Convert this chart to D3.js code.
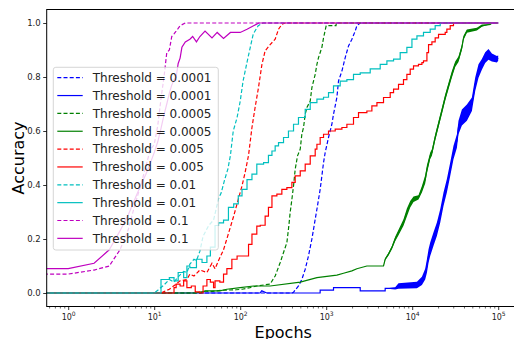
<!DOCTYPE html>
<html><head><meta charset="utf-8">
<script src="https://cdn.jsdelivr.net/npm/d3@7/dist/d3.min.js"></script>
<style>
body{margin:0;background:#fff}
text{font-family:"DejaVu Sans",sans-serif}
</style>
</head><body>
<svg id="chart" width="514" height="339"></svg>
<script>
// [epoch, accuracy, spread] - spread is the noise band
var b_dash = [[0,0],[400,0],[417,0.003],[476,0.026],[521,0.05],[570,0.088],[622,0.137],[682,0.2],[745,0.273],[792,0.323],[851,0.384],[891,0.434],[931,0.483],[973,0.52],[1064,0.576],[1164,0.625],[1216,0.662],[1331,0.724],[1390,0.785],[1523,0.822],[1664,0.872],[1818,0.915],[1990,0.94],[2173,0.97],[2274,0.99],[2485,1],[100000,1]];
var b_solid = [[0,0],[170,0],[178,0.008],[204,0],[850,0],[851,0.011],[1216,0.011],[1217,0.02],[2485,0.02],[2486,0.008],[4850,0.008],[4851,0.017],[6340,0.017,0.004],[6930,0.026,0.01],[11350,0.03,0.012],[12970,0.045,0.015],[14160,0.07,0.02],[14830,0.1,0.025],[15490,0.137,0.025],[16190,0.162,0.025],[17700,0.2,0.025],[19360,0.236,0.025],[21170,0.285,0.025],[23120,0.347,0.025],[25300,0.397,0.025],[27670,0.458,0.025],[30200,0.52,0.025],[33110,0.563,0.025],[34530,0.613,0.025],[37830,0.65,0.03],[43250,0.668,0.03],[49450,0.699,0.025],[51660,0.736,0.025],[54050,0.773,0.025],[59020,0.822,0.025],[64570,0.847,0.02],[70590,0.872,0.02],[77100,0.884,0.02],[84500,0.872,0.015],[96600,0.866,0.012],[100000,0.87,0.01]];
var g_dash = [[0,0],[35,0],[38,0.008],[45,0.005],[60,0.01],[90,0.012],[105,0.014],[130,0.02],[156,0.026],[190,0.03],[223,0.033],[255,0.063],[292,0.113],[319,0.15],[349,0.187],[364,0.236],[381,0.298],[399,0.347],[417,0.397],[436,0.458],[464,0.508],[499,0.533],[521,0.588],[545,0.613],[570,0.662],[597,0.687],[652,0.711],[682,0.761],[745,0.81],[780,0.847],[814,0.872],[891,0.91],[931,0.945],[1000,0.99],[1300,0.99],[1310,1],[100000,1]];
var g_solid = [[0,0],[30,0],[41,0.008],[58,0.008],[70,0.014],[100,0.02],[143,0.026],[223,0.026],[499,0.04],[780,0.057],[1331,0.066],[1590,0.073],[1990,0.082],[2274,0.09],[2972,0.1],[4640,0.1],[4850,0.125,0.004],[5300,0.144,0.005],[5800,0.168,0.006],[6340,0.2,0.008],[6930,0.224,0.01],[7920,0.261,0.012],[8670,0.298,0.015],[9480,0.329,0.012],[10360,0.347,0.01],[11830,0.354,0.008],[12970,0.384,0.012],[14160,0.421,0.015],[14830,0.458,0.015],[16190,0.508,0.012],[16950,0.52,0.012],[18500,0.576,0.012],[20230,0.625,0.012],[22130,0.674,0.012],[24200,0.724,0.012],[26430,0.767,0.012],[28950,0.81,0.012],[31620,0.847,0.01],[34530,0.866,0.01],[37830,0.91,0.01],[39520,0.945,0.008],[43250,0.97,0.006],[56480,0.977,0.005],[64570,0.99,0.004],[80740,0.995],[84500,1]];
var r_dash = [[0,0],[12,0],[13,0.005],[15,0.014],[18,0.033],[20,0.045],[24,0.05],[26,0.07],[29,0.063],[34,0.085],[41,0.076],[47,0.11],[51,0.09],[56,0.12],[64,0.16],[73,0.22],[84,0.285],[95,0.347],[105,0.397],[114,0.446],[125,0.51],[137,0.613],[149,0.687],[163,0.76],[179,0.847],[195,0.897],[223,0.92],[255,0.94],[279,0.977],[305,0.995],[334,1],[100000,1]];
var r_solid = [[0,0],[15,0],[17,0.02],[18,0.033],[20,0.026],[22,0.045],[24,0.02],[27,0.026],[30,0.004],[34,0],[37,0.026],[41,0.05],[45,0.04],[49,0.02],[51,0.045],[58,0.04],[64,0.07],[70,0.09],[80,0.125],[92,0.137],[109,0.137],[125,0.18],[137,0.218],[156,0.248],[171,0.251],[195,0.285],[213,0.317],[234,0.36],[267,0.366],[305,0.384],[349,0.39],[399,0.41],[436,0.434],[499,0.452],[570,0.477],[652,0.508],[745,0.533],[780,0.551],[851,0.576],[931,0.588],[1064,0.6],[1273,0.607],[1523,0.613],[1740,0.625],[2077,0.65],[2375,0.668],[2972,0.674],[3398,0.693],[3890,0.705],[4640,0.724],[5549,0.742],[6070,0.755],[6930,0.773],[7920,0.79],[8670,0.81],[9480,0.829],[10360,0.841],[11830,0.847],[12970,0.853],[13530,0.86],[14830,0.89],[15490,0.92],[16950,0.93],[18500,0.945],[20230,0.958],[22130,0.958],[24200,0.965],[25300,0.977],[27670,0.99],[30200,1],[100000,1]];
var c_dash = [[0,0],[10,0],[11,0.01],[13,0.03],[15,0.05],[17,0.04],[19,0.06],[22,0.08],[24,0.076],[26,0.107],[29,0.125],[31,0.12],[34,0.155],[37,0.21],[43,0.25],[49,0.27],[56,0.35],[60,0.37],[66,0.42],[72,0.46],[77,0.51],[83,0.6],[92,0.65],[100,0.71],[108,0.785],[121,0.86],[131,0.91],[142,0.96],[162,0.99],[185,1],[100000,1]];
var c_solid = [[0,0],[10,0],[12,0.05],[15,0.057],[17,0.045],[19,0.076],[22,0.057],[24,0.1],[26,0.094],[31,0.125],[36,0.113],[41,0.137],[45,0.17],[51,0.25],[56,0.26],[64,0.27],[73,0.317],[84,0.33],[95,0.36],[105,0.384],[120,0.42],[137,0.44],[156,0.477],[187,0.483],[213,0.51],[234,0.526],[255,0.545],[279,0.557],[319,0.576],[364,0.6],[417,0.625],[476,0.65],[570,0.68],[652,0.705],[780,0.718],[931,0.725],[1064,0.742],[1216,0.767],[1455,0.785],[1740,0.79],[2077,0.81],[2485,0.815],[3249,0.83],[4246,0.847],[5080,0.86],[6070,0.866],[7250,0.89],[8670,0.91],[9930,0.94],[11350,0.952],[13530,0.965],[16190,0.977],[18500,0.99],[21170,1],[100000,1]];
var m_dash = [[0,0.07],[1,0.07],[2,0.085],[3,0.1],[4,0.16],[5,0.235],[6,0.33],[7,0.4],[8,0.47],[9,0.53],[10,0.55],[11,0.62],[12,0.72],[13,0.8],[14,0.89],[15,0.9],[16,0.95],[17,0.96],[18,0.97],[19,0.98],[20,0.99],[23,1],[100000,1]];
var m_solid = [[0,0.09],[1,0.09],[2,0.11],[3,0.16],[4,0.23],[5,0.29],[6,0.35],[7,0.4],[8,0.44],[9,0.48],[10,0.52],[11,0.56],[12,0.61],[13,0.66],[14,0.7],[15,0.74],[16,0.77],[17,0.79],[18,0.8],[19,0.85],[20,0.87],[21,0.91],[23,0.93],[26,0.94],[28,0.95],[31,0.93],[34,0.95],[39,0.97],[47,0.945],[54,0.965],[64,0.943],[77,0.965],[100,0.965],[120,0.977],[143,0.99],[165,1],[100000,1]];

var labels = ["Threshold = 0.0001","Threshold = 0.0001","Threshold = 0.0005","Threshold = 0.0005","Threshold = 0.005","Threshold = 0.005","Threshold = 0.01","Threshold = 0.01","Threshold = 0.1","Threshold = 0.1"];
var yTicks = [0, 0.2, 0.4, 0.6, 0.8, 1.0];
var xPowers = [0, 1, 2, 3, 4, 5];

var series = [
  {data: b_dash,  color: "#0000ff", dash: true},
  {data: b_solid, color: "#0000ff", dash: false},
  {data: g_dash,  color: "#008000", dash: true},
  {data: g_solid, color: "#008000", dash: false},
  {data: r_dash,  color: "#ff0000", dash: true},
  {data: r_solid, color: "#ff0000", dash: false, step: true},
  {data: c_dash,  color: "#00bfbf", dash: true},
  {data: c_solid, color: "#00bfbf", dash: false, step: true},
  {data: m_dash,  color: "#bf00bf", dash: true},
  {data: m_solid, color: "#bf00bf", dash: false}
];
series.forEach(function(s, i){ s.label = labels[i]; });

var plotL = 46.7, plotR = 519.7, plotT = 9.5, plotB = 306.5;

var svg = d3.select("#chart");

var x = d3.scaleLog()
    .domain([Math.pow(10, -0.25), Math.pow(10, 5.25)])
    .range([plotL, plotR]);
var y = d3.scaleLinear()
    .domain([-0.05, 1.05])
    .range([plotB, plotT]);

// epoch 0 is clipped to the left edge like matplotlib does on a log axis
function ex(e){ return e > 0 ? x(e) : x.range()[0] - 40; }

svg.append("defs").append("clipPath").attr("id", "plotclip")
  .append("rect")
    .attr("x", plotL).attr("y", plotT)
    .attr("width", plotR - plotL).attr("height", plotB - plotT);

var plot = svg.append("g").attr("clip-path", "url(#plotclip)");

series.forEach(function(s){
  var curve = s.step ? d3.curveStepAfter : d3.curveLinear;
  var noisy = s.data.some(function(d){ return d[2]; });
  if (noisy) {
    var area = d3.area()
      .x(function(d){ return ex(d[0]); })
      .y0(function(d){ return y(d[1] - (d[2] || 0)); })
      .y1(function(d){ return y(d[1] + (d[2] || 0)); })
      .curve(curve);
    plot.append("path")
      .datum(s.data)
      .attr("d", area)
      .attr("fill", s.color);
  }
  var line = d3.line()
    .x(function(d){ return ex(d[0]); })
    .y(function(d){ return y(d[1]); })
    .curve(curve);
  plot.append("path")
    .datum(s.data)
    .attr("d", line)
    .attr("fill", "none")
    .attr("stroke", s.color)
    .attr("stroke-width", 1.2)
    .attr("stroke-dasharray", s.dash ? "4,2.2" : null);
});

// y axis
svg.append("g")
    .attr("transform", "translate(" + plotL + ",0)")
    .call(d3.axisLeft(y).tickValues(yTicks).tickFormat(d3.format(".1f")).tickSize(3.5).tickPadding(2.5))
    .call(function(g){ g.select(".domain").remove(); })
    .call(function(g){ g.selectAll("text").attr("font-size", "8.5px").attr("fill", "#222").style("font-family", "DejaVu Sans"); })
    .call(function(g){ g.selectAll("line").attr("stroke-width", 0.8); });

// x axis: minor ticks
var minors = [];
[-1].concat(xPowers).forEach(function(p){
  for (var k = 2; k < 10; k++) {
    var v = k * Math.pow(10, p);
    if (v > x.domain()[0] && v < x.domain()[1]) minors.push(v);
  }
});
svg.append("g")
    .attr("transform", "translate(0," + plotB + ")")
    .call(d3.axisBottom(x).tickValues(minors).tickFormat("").tickSize(2))
    .call(function(g){ g.select(".domain").remove(); })
    .call(function(g){ g.selectAll("line").attr("stroke-width", 0.6); });

var xMajor = svg.append("g")
    .attr("transform", "translate(0," + plotB + ")")
    .call(d3.axisBottom(x).tickValues(xPowers.map(function(p){ return Math.pow(10, p); })).tickFormat("").tickSize(3.5))
    .call(function(g){ g.select(".domain").remove(); })
    .call(function(g){ g.selectAll("line").attr("stroke-width", 0.8); });

xMajor.selectAll(".tick").each(function(d, i){
  var t = d3.select(this).append("text")
      .attr("y", 13)
      .attr("fill", "#222")
      .attr("text-anchor", "middle")
      .style("font-family", "DejaVu Sans");
  t.append("tspan").attr("font-size", "8px").text("10");
  t.append("tspan").attr("font-size", "6px").attr("dy", "-4").text(xPowers[i]);
});

// frame
svg.append("rect")
    .attr("x", plotL).attr("y", plotT)
    .attr("width", plotR - plotL).attr("height", plotB - plotT)
    .attr("fill", "none")
    .attr("stroke", "#000")
    .attr("stroke-width", 1);

// axis titles
svg.append("text")
    .attr("x", (plotL + plotR) / 2)
    .attr("y", 338)
    .attr("text-anchor", "middle")
    .attr("font-size", "16px")
    .text("Epochs");
svg.append("text")
    .attr("transform", "translate(23.5," + ((plotT + plotB) / 2) + ") rotate(-90)")
    .attr("text-anchor", "middle")
    .attr("font-size", "16px")
    .text("Accuracy");

// legend
var lg = svg.append("g").attr("transform", "translate(53.3,67.3)");
lg.append("rect")
    .attr("width", 165).attr("height", 182.7)
    .attr("rx", 2.5)
    .attr("fill", "#fff").attr("fill-opacity", 0.8)
    .attr("stroke", "#ccc").attr("stroke-width", 0.8);
series.forEach(function(s, i){
  var row = lg.append("g").attr("transform", "translate(0," + (10.4 + i * 17.85) + ")");
  row.append("line")
    .attr("x1", 4).attr("x2", 29.4)
    .attr("stroke", s.color)
    .attr("stroke-width", 1.2)
    .attr("stroke-dasharray", s.dash ? "4,2.2" : null);
  row.append("text")
    .attr("x", 39.4)
    .attr("y", 4.3)
    .attr("font-size", "12px")
    .attr("fill", "#222")
    .text(s.label);
});
</script>
</body></html>
